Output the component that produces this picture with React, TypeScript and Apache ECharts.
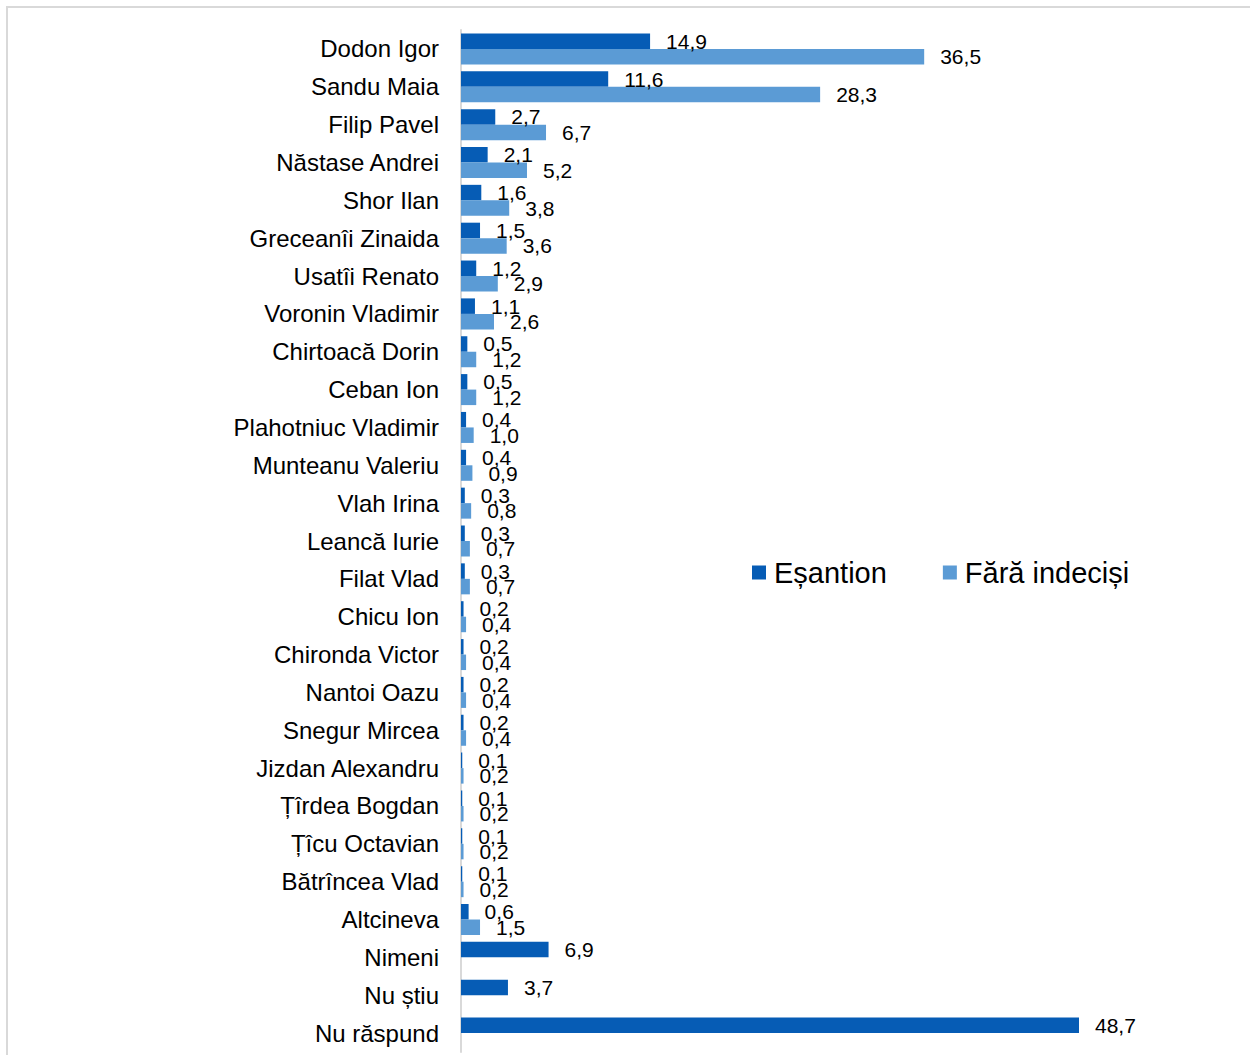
import React, { useEffect, useRef } from "react";
import * as echarts from "echarts";

const categories = [
  "Dodon Igor", "Sandu Maia", "Filip Pavel", "Năstase Andrei", "Shor Ilan",
  "Greceanîi Zinaida", "Usatîi Renato", "Voronin Vladimir", "Chirtoacă Dorin",
  "Ceban Ion", "Plahotniuc Vladimir", "Munteanu Valeriu", "Vlah Irina",
  "Leancă Iurie", "Filat Vlad", "Chicu Ion", "Chironda Victor", "Nantoi Oazu",
  "Snegur Mircea", "Jizdan Alexandru", "Țîrdea Bogdan", "Țîcu Octavian",
  "Bătrîncea Vlad", "Altcineva", "Nimeni", "Nu știu", "Nu răspund",
];

const esantion = [
  14.9, 11.6, 2.7, 2.1, 1.6, 1.5, 1.2, 1.1, 0.5, 0.5, 0.4, 0.4, 0.3, 0.3, 0.3,
  0.2, 0.2, 0.2, 0.2, 0.1, 0.1, 0.1, 0.1, 0.6, 6.9, 3.7, 48.7,
];

const faraIndecisi = [
  36.5, 28.3, 6.7, 5.2, 3.8, 3.6, 2.9, 2.6, 1.2, 1.2, 1.0, 0.9, 0.8, 0.7, 0.7,
  0.4, 0.4, 0.4, 0.4, 0.2, 0.2, 0.2, 0.2, 1.5, null, null, null,
];

const seriesNames = ["Eșantion", "Fără indeciși"];

const FONT = '"Liberation Sans", Arial, sans-serif';
const fmt = (p: any) =>
  p.value == null ? "" : Number(p.value).toFixed(1).replace(".", ",");

export default function App() {
  const ref = useRef<HTMLDivElement>(null);
  useEffect(() => {
    if (!ref.current) return;
    const chart = echarts.init(ref.current, null, { renderer: "svg" });
    const labelCommon = {
      show: true,
      position: "right",
      distance: 16,
      fontSize: 21,
      fontFamily: FONT,
      color: "#000",
      formatter: fmt,
    };
    chart.setOption({
      animation: false,
      backgroundColor: "#fff",
      graphic: [
        {
          type: "rect",
          shape: { x: 7, y: 7, width: 1260, height: 1070 },
          style: { fill: "none", stroke: "#d9d9d9", lineWidth: 2 },
          silent: true,
        },
      ],
      legend: {
        left: 747,
        top: 553,
        itemWidth: 14,
        itemHeight: 14,
        itemGap: 56,
        icon: "rect",
        textStyle: { fontSize: 29, fontFamily: FONT, color: "#000", padding: [0, 0, 0, 3] },
        data: seriesNames,
      },
      grid: { left: 461, top: 30, width: 634.5, height: 1022, containLabel: false },
      xAxis: {
        type: "value",
        min: 0,
        max: 50,
        show: false,
      },
      yAxis: {
        type: "category",
        data: categories,
        inverse: true,
        axisLine: { show: true, lineStyle: { color: "#d9d9d9", width: 2 } },
        axisTick: { show: false },
        axisLabel: {
          fontSize: 24,
          fontFamily: FONT,
          color: "#000",
          margin: 22,
        },
      },
      series: [
        {
          name: seriesNames[0],
          type: "bar",
          data: esantion,
          barWidth: 15.5,
          barGap: "0%",
          itemStyle: { color: "#065CB5" },
          label: labelCommon,
        },
        {
          name: seriesNames[1],
          type: "bar",
          data: faraIndecisi,
          barWidth: 15.5,
          barGap: "0%",
          itemStyle: { color: "#5B9BD5" },
          label: labelCommon,
        },
      ],
    });
    return () => chart.dispose();
  }, []);
  return (
    <div
      ref={ref}
      style={{ position: "fixed", left: 0, top: 0, width: 1250, height: 1055 }}
    />
  );
}
